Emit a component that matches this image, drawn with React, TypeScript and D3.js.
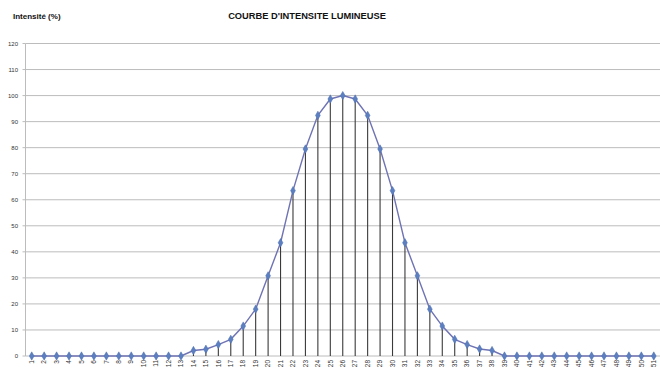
import React from "react";
import * as d3 from "d3";

const categories: string[] = Array.from({ length: 51 }, (_, i) => String(i + 1));
const intensity: number[] = [
  0, 0, 0, 0, 0, 0, 0, 0, 0, 0, 0, 0, 0,
  2.1, 2.6, 4.4, 6.4, 11.5, 18, 30.8, 43.5, 63.5, 79.5, 92.4, 98.7,
  100,
  98.7, 92.4, 79.5, 63.5, 43.5, 30.8, 18, 11.5, 6.4, 4.4, 2.7, 2.1,
  0, 0, 0, 0, 0, 0, 0, 0, 0, 0, 0, 0, 0,
];
const yTicks: number[] = [0, 10, 20, 30, 40, 50, 60, 70, 80, 90, 100, 110, 120];
const title = "COURBE D'INTENSITE LUMINEUSE";
const yTitle = "Intensité (%)";

export default function App() {
  const W = 660, H = 381;
  const left = 25.5, right = 660, top = 43.5, bottom = 356;
  const x = d3.scaleBand<string>().domain(categories).range([left, right]).padding(0);
  const cx = (c: string) => (x(c) as number) + x.bandwidth() / 2;
  const y = d3.scaleLinear().domain([0, 120]).range([bottom, top]);
  const line = d3.line<number>().x((_, i) => cx(categories[i])).y((d) => y(d));
  const diamond = d3.symbol().type(d3.symbolDiamond).size(20)();
  const font = "'Liberation Sans', Arial, sans-serif";

  return (
    <svg width={W} height={H} style={{ position: "absolute", left: 0, top: 0, background: "#fff" }}>
      <text x={13} y={19} fontFamily={font} fontSize={8} fontWeight="bold" fill="#111">{yTitle}</text>
      <text x={307} y={19} textAnchor="middle" fontFamily={font} fontSize={9.3} fontWeight="bold" fill="#111">{title}</text>
      {yTicks.map((t) => (
        <g key={t}>
          {t > 0 && (
            <line x1={left} x2={right} y1={y(t)} y2={y(t)} stroke="#bcbcbc" strokeWidth={1} />
          )}
          <line x1={left - 3} x2={left} y1={y(t)} y2={y(t)} stroke="#bcbcbc" strokeWidth={1} />
          <text x={18} y={y(t) + 2.2} textAnchor="end" fontFamily={font} fontSize={6} fill="#333">{t}</text>
        </g>
      ))}
      <line x1={left} x2={left} y1={top} y2={bottom} stroke="#bcbcbc" strokeWidth={1} />
      <line x1={left} x2={right} y1={bottom} y2={bottom} stroke="#bcbcbc" strokeWidth={1} />
      {categories.map((c, i) =>
        intensity[i] > 0 ? (
          <line key={"d" + c} x1={cx(c)} x2={cx(c)} y1={y(intensity[i])} y2={bottom} stroke="#3a3a3a" strokeWidth={1.1} />
        ) : null
      )}
      <path d={line(intensity) || ""} fill="none" stroke="#6f73b3" strokeWidth={1.4} />
      {categories.map((c, i) => (
        <path key={"m" + c} d={diamond || ""} transform={`translate(${cx(c)},${y(intensity[i])})`} fill="#5b7fc0" stroke="#4a6fae" strokeWidth={0.5} />
      ))}
      {categories.map((c) => (
        <text
          key={"t" + c}
          transform={`translate(${cx(c) + 2.2},${360}) rotate(-90)`}
          textAnchor="end"
          fontFamily={font}
          fontSize={6.5}
          fill="#333"
        >
          {c}
        </text>
      ))}
    </svg>
  );
}
